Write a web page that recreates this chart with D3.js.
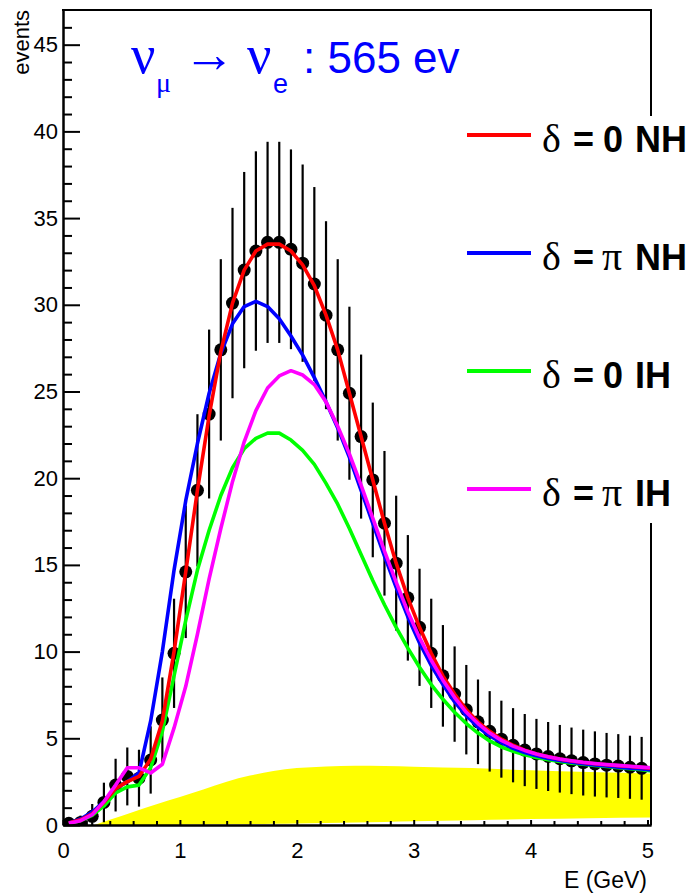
<!DOCTYPE html>
<html><head><meta charset="utf-8">
<script src="https://cdn.jsdelivr.net/npm/d3@7"></script>
<style>body{margin:0;background:#fff;} svg{display:block;}</style>
</head><body><svg id="chart" width="692" height="895"></svg>
<script>
// ---- data ----
const energy = [0.05,0.15,0.25,0.35,0.45,0.55,0.65,0.75,0.85,0.95,
  1.05,1.15,1.25,1.35,1.45,1.55,1.65,1.75,1.85,1.95,
  2.05,2.15,2.25,2.35,2.45,2.55,2.65,2.75,2.85,2.95,
  3.05,3.15,3.25,3.35,3.45,3.55,3.65,3.75,3.85,3.95,
  4.05,4.15,4.25,4.35,4.45,4.55,4.65,4.75,4.85,4.95];
const events = [0.1,0.15,0.5,1.3,2.3,2.8,2.7,3.75,6.05,9.9,
  14.6,19.3,23.7,27.4,30.1,32.0,33.1,33.6,33.6,33.2,
  32.4,31.2,29.4,27.4,24.9,22.4,19.9,17.4,15.1,13.1,
  11.4,9.9,8.6,7.55,6.65,5.95,5.4,4.95,4.6,4.32,
  4.1,3.95,3.82,3.7,3.6,3.52,3.45,3.4,3.33,3.27];
const errors = [0.32,0.39,0.71,1.14,1.52,1.67,1.64,1.94,2.46,3.15,
  3.82,4.39,4.87,5.23,5.49,5.66,5.75,5.8,5.8,5.76,
  5.69,5.59,5.42,5.23,4.99,4.73,4.46,4.17,3.89,3.62,
  3.38,3.15,2.93,2.75,2.58,2.44,2.32,2.22,2.14,2.08,
  2.02,1.99,1.95,1.92,1.9,1.88,1.86,1.84,1.82,1.81];

const curveEnergy = [0.05,0.15,0.25,0.35,0.45,0.55,0.65,0.75,0.85,0.95,
  1.05,1.15,1.25,1.35,1.45,1.55,1.65,1.75,1.85,1.95,
  2.05,2.15,2.25,2.35,2.45,2.55,2.65,2.75,2.85,2.95,
  3.05,3.15,3.25,3.35,3.45,3.55,3.65,3.75,3.85,3.95,
  4.05,4.15,4.25,4.35,4.45,4.55,4.65,4.75,4.85,4.95,5.03];
const nh0 = [0.12,0.3,0.65,1.3,2.1,2.5,2.8,3.8,6.0,10.0,
  14.6,19.3,23.6,27.3,30.1,32.0,33.1,33.5,33.5,33.1,
  32.3,31.1,29.4,27.4,24.9,22.4,19.9,17.4,15.1,13.1,
  11.4,9.9,8.6,7.55,6.65,5.95,5.4,4.95,4.6,4.32,
  4.1,3.93,3.8,3.69,3.6,3.53,3.47,3.42,3.37,3.32,3.28];
const nhPi = [0.12,0.35,0.75,1.35,2.1,2.5,3.0,6.0,10.0,14.7,
  18.7,22.0,24.9,27.2,28.9,29.9,30.2,29.9,29.2,28.2,
  27.1,25.8,24.4,22.9,21.2,19.3,17.4,15.5,13.7,12.0,
  10.5,9.2,8.1,7.1,6.3,5.65,5.15,4.75,4.42,4.18,
  3.99,3.84,3.72,3.62,3.53,3.46,3.4,3.34,3.28,3.23,3.18];
const ih0 = [0.1,0.25,0.55,1.1,1.85,2.2,2.3,3.3,5.4,8.6,
  11.8,14.7,17.0,19.0,20.6,21.7,22.3,22.6,22.6,22.2,
  21.6,20.8,19.7,18.5,17.1,15.6,14.1,12.7,11.4,10.2,
  9.1,8.1,7.25,6.5,5.85,5.3,4.85,4.5,4.25,4.05,
  3.9,3.77,3.66,3.57,3.5,3.43,3.37,3.31,3.25,3.19,3.12];
const ihPi = [0.1,0.25,0.6,1.35,2.3,3.3,3.3,3.0,3.5,5.6,
  8.0,11.0,14.2,17.1,19.8,22.1,23.9,25.2,25.9,26.2,
  25.95,25.4,24.4,23.0,21.4,19.6,17.7,15.8,14.0,12.3,
  10.8,9.5,8.35,7.35,6.5,5.85,5.3,4.88,4.55,4.3,
  4.1,3.94,3.81,3.71,3.62,3.55,3.49,3.44,3.39,3.34,3.3];

const bgEnergy = [0.27,0.4,0.6,0.8,1.0,1.2,1.4,1.6,1.8,2.0,2.25,2.5,2.75,3.0,3.5,4.0,4.5,5.03];
const bgHigh = [0,0.3,0.75,1.2,1.62,2.05,2.5,2.85,3.12,3.28,3.38,3.42,3.4,3.36,3.28,3.16,3.06,2.97];
const bgLow  = [0,0,0,0,0.02,0.03,0.04,0.05,0.07,0.09,0.12,0.15,0.18,0.21,0.28,0.34,0.39,0.43];

const xMajor = [0,1,2,3,4,5];
const xMinor = [0.2,0.4,0.6,0.8,1.2,1.4,1.6,1.8,2.2,2.4,2.6,2.8,3.2,3.4,3.6,3.8,4.2,4.4,4.6,4.8];
const yMajor = [0,5,10,15,20,25,30,35,40,45];
const yMinor = [1,2,3,4,6,7,8,9,11,12,13,14,16,17,18,19,21,22,23,24,26,27,28,29,31,32,33,34,36,37,38,39,41,42,43,44,46];

const seriesNames = ["0 NH","\u03c0 NH","0 IH","\u03c0 IH"];
const seriesColors = ["#ff0000","#0000ff","#00ff00","#ff00ff"];
const seriesData = [nh0, nhPi, ih0, ihPi];

// ---- chart ----
const svg = d3.select("#chart");
const L = 63, R = 651, T = 10, B = 825;
const x = d3.scaleLinear().domain([0, 5.03]).range([L, R]);
const y = d3.scaleLinear().domain([0, 47]).range([B, T]);
const sans = "'Liberation Sans', Arial, Helvetica, sans-serif";
const serif = "'Liberation Serif', 'Times New Roman', serif";

svg.append("clipPath").attr("id","clip").append("rect")
  .attr("x", L).attr("y", T).attr("width", R-L).attr("height", B-T);
const plot = svg.append("g").attr("clip-path","url(#clip)");

// background band
const bg = bgEnergy.map((e,i)=>({e, lo:bgLow[i], hi:bgHigh[i]}));
plot.append("path").datum(bg)
  .attr("fill","#ffff00")
  .attr("d", d3.area().x(d=>x(d.e)).y0(d=>y(d.lo)).y1(d=>y(d.hi)).curve(d3.curveMonotoneX));

// error bars + points
const pts = energy.map((e,i)=>({e, v:events[i], err:errors[i]}));
plot.selectAll("line.err").data(pts).join("line").attr("class","err")
  .attr("x1", d=>x(d.e)).attr("x2", d=>x(d.e))
  .attr("y1", d=>y(d.v - d.err)).attr("y2", d=>y(d.v + d.err))
  .attr("stroke","#000").attr("stroke-width",2.2);
plot.selectAll("circle.pt").data(pts).join("circle").attr("class","pt")
  .attr("cx", d=>x(d.e)).attr("cy", d=>y(d.v)).attr("r",6.5).attr("fill","#000");

// curves (draw order: green, blue, red, magenta)
const line = d3.line().x(d=>x(d.e)).y(d=>y(d.v)).curve(d3.curveLinear);
[2,1,0,3].forEach(k=>{
  const data = curveEnergy.map((e,i)=>({e, v:seriesData[k][i]}));
  plot.append("path").datum(data).attr("d", line)
    .attr("fill","none").attr("stroke", seriesColors[k])
    .attr("stroke-width",3.6).attr("stroke-linejoin","round");
});

// axes
svg.append("g").attr("transform",`translate(${L},0)`)
  .call(d3.axisLeft(y).tickValues(yMajor).tickSize(-17).tickSizeOuter(0).tickPadding(5).tickFormat(d3.format("d")));
svg.append("g").attr("transform",`translate(${L},0)`)
  .call(d3.axisLeft(y).tickValues(yMinor).tickSize(-9).tickSizeOuter(0).tickFormat(""));
svg.append("g").attr("transform",`translate(0,${B})`)
  .call(d3.axisBottom(x).tickValues(xMajor).tickSize(-5).tickSizeOuter(0).tickPadding(17).tickFormat(d3.format("d")));
svg.append("g").attr("transform",`translate(0,${B})`)
  .call(d3.axisBottom(x).tickValues(xMinor).tickSize(-4).tickSizeOuter(0).tickFormat(""));
svg.selectAll(".domain").attr("stroke","#000").attr("stroke-width",2);
svg.selectAll(".tick line").attr("stroke","#000").attr("stroke-width",2);
svg.selectAll(".tick text").attr("font-family",sans).attr("font-size",22).attr("fill","#000");

// frame top & right
svg.append("line").attr("x1",L-1).attr("x2",R+1).attr("y1",T).attr("y2",T).attr("stroke","#000").attr("stroke-width",2);
svg.append("line").attr("x1",R).attr("x2",R).attr("y1",T).attr("y2",B).attr("stroke","#000").attr("stroke-width",2);

// axis titles
svg.append("text").attr("transform",`translate(29,10) rotate(-90)`)
  .attr("text-anchor","end").attr("font-family",sans).attr("font-size",22).text("events");
svg.append("text").attr("x",647).attr("y",888).attr("text-anchor","end")
  .attr("font-family",sans).attr("font-size",23).text("E (GeV)");

// legend
svg.append("rect").attr("x",458).attr("y",116).attr("width",234).attr("height",407).attr("fill","#fff");
seriesNames.forEach((name,i)=>{
  const ly = 135 + 118*i;
  svg.append("line").attr("x1",467).attr("x2",531).attr("y1",ly).attr("y2",ly)
    .attr("stroke",seriesColors[i]).attr("stroke-width",4);
  const t = svg.append("text").attr("y", ly+17).attr("fill","#000");
  t.append("tspan").attr("x",542).attr("font-family",serif).attr("font-size",40).text("\u03b4");
  t.append("tspan").attr("x",573).attr("font-family",sans).attr("font-weight","bold").attr("font-size",36).text("=");
  const parts = name.split(" ");
  if (parts[0] === "\u03c0")
    t.append("tspan").attr("x",602).attr("font-family",serif).attr("font-size",40).text(parts[0]);
  else
    t.append("tspan").attr("x",603).attr("font-family",sans).attr("font-weight","bold").attr("font-size",36).text(parts[0]);
  t.append("tspan").attr("x",635).attr("font-family",sans).attr("font-weight","bold").attr("font-size",36).text(parts[1]);
});

// title
const title = svg.append("text").attr("fill","#0000ff");
title.append("tspan").attr("x",131).attr("y",73).attr("font-family",serif).attr("font-size",54).text("\u03bd");
title.append("tspan").attr("x",156).attr("y",92).attr("font-family",serif).attr("font-size",28).text("\u03bc");
title.append("tspan").attr("x",183).attr("y",72).attr("font-family",serif).attr("font-size",52).text("\u2192");
title.append("tspan").attr("x",247).attr("y",73).attr("font-family",serif).attr("font-size",54).text("\u03bd");
title.append("tspan").attr("x",273).attr("y",93).attr("font-family",sans).attr("font-size",27).text("e");
title.append("tspan").attr("x",303).attr("y",73).attr("font-family",sans).attr("font-size",44).text(": 565 ev");
</script>
</body></html>
